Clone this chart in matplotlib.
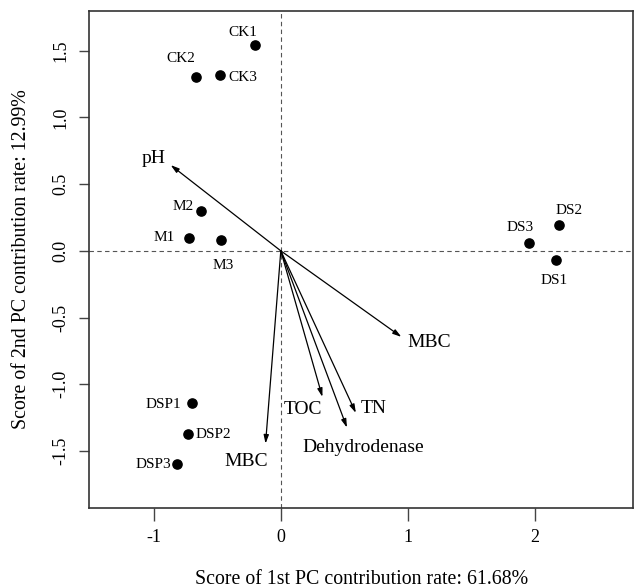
import matplotlib
matplotlib.use("Agg")
import matplotlib.pyplot as plt

plt.rcParams['font.family'] = ['Liberation Serif', 'DejaVu Serif']
plt.rcParams['axes.unicode_minus'] = False

# sample scores (PC1, PC2)
samples = ["CK1", "CK2", "CK3", "M1", "M2", "M3", "DS1", "DS2", "DS3", "DSP1", "DSP2", "DSP3"]
pc1 = [-0.20, -0.67, -0.48, -0.725, -0.63, -0.47, 2.16, 2.19, 1.95, -0.70, -0.73, -0.82]
pc2 = [1.54, 1.305, 1.32, 0.10, 0.30, 0.08, -0.065, 0.19, 0.06, -1.14, -1.375, -1.595]
# label positions for the samples
lab_x = [-0.30, -0.785, -0.30, -0.92, -0.77, -0.45, 2.15, 2.265, 1.885, -0.92, -0.53, -1.0]
lab_y = [1.64, 1.445, 1.30, 0.10, 0.33, -0.11, -0.22, 0.305, 0.175, -1.15, -1.375, -1.60]

# variable loadings (arrows from the origin)
variables = ["pH", "MBC", "TN", "Dehydrodenase", "TOC", "MBC"]
load1 = [-0.866, 0.948, 0.59, 0.52, 0.327, -0.12]
load2 = [0.643, -0.645, -1.215, -1.325, -1.095, -1.445]
var_lx = [-1.0, 1.17, 0.73, 0.65, 0.175, -0.27]
var_ly = [0.69, -0.69, -1.18, -1.475, -1.19, -1.58]

fig = plt.figure(figsize=(6.35, 5.88), dpi=100)
ax = fig.add_axes([0.1406, 0.1355, 0.8564, 0.8463])

ax.axhline(0, color='#555555', lw=0.8, ls=(0, (4, 3)), zorder=1)
ax.axvline(0, color='#555555', lw=0.8, ls=(0, (4, 3)), zorder=1)

ax.scatter(pc1, pc2, s=44, color='black', zorder=3)
for name, x, y in zip(samples, lab_x, lab_y):
    ax.text(x, y, name, fontsize=11, ha='center', va='center')

for name, x, y, lx, ly in zip(variables, load1, load2, var_lx, var_ly):
    ax.annotate("", xy=(x, y), xytext=(0, 0),
                arrowprops=dict(arrowstyle='-|>,head_length=0.5,head_width=0.15',
                                color='black', lw=0.9, shrinkA=0, shrinkB=0))
    ax.text(lx, ly, name, fontsize=14, ha='center', va='center')

ax.set_xlim(-1.506, 2.77)
ax.set_ylim(-1.93, 1.80)
ax.set_xticks([-1, 0, 1, 2])
ax.set_yticks([-1.5, -1.0, -0.5, 0.0, 0.5, 1.0, 1.5])
ax.set_yticklabels(["-1.5", "-1.0", "-0.5", "0.0", "0.5", "1.0", "1.5"],
                   rotation=90, va='center')
ax.tick_params(axis='x', length=9, width=1.0, color='#444444', labelsize=13, pad=6)
ax.tick_params(axis='y', length=7.5, width=1.0, color='#444444', labelsize=13, pad=7)
for sp in ax.spines.values():
    sp.set_linewidth(1.2)
    sp.set_color('#333333')

ax.set_xlabel("Score of 1st PC contribution rate: 61.68%", fontsize=14.3, labelpad=17)
ax.set_ylabel("Score of 2nd PC contribution rate: 12.99%", fontsize=14.3, labelpad=15)

fig.savefig("out.png", dpi=100)
